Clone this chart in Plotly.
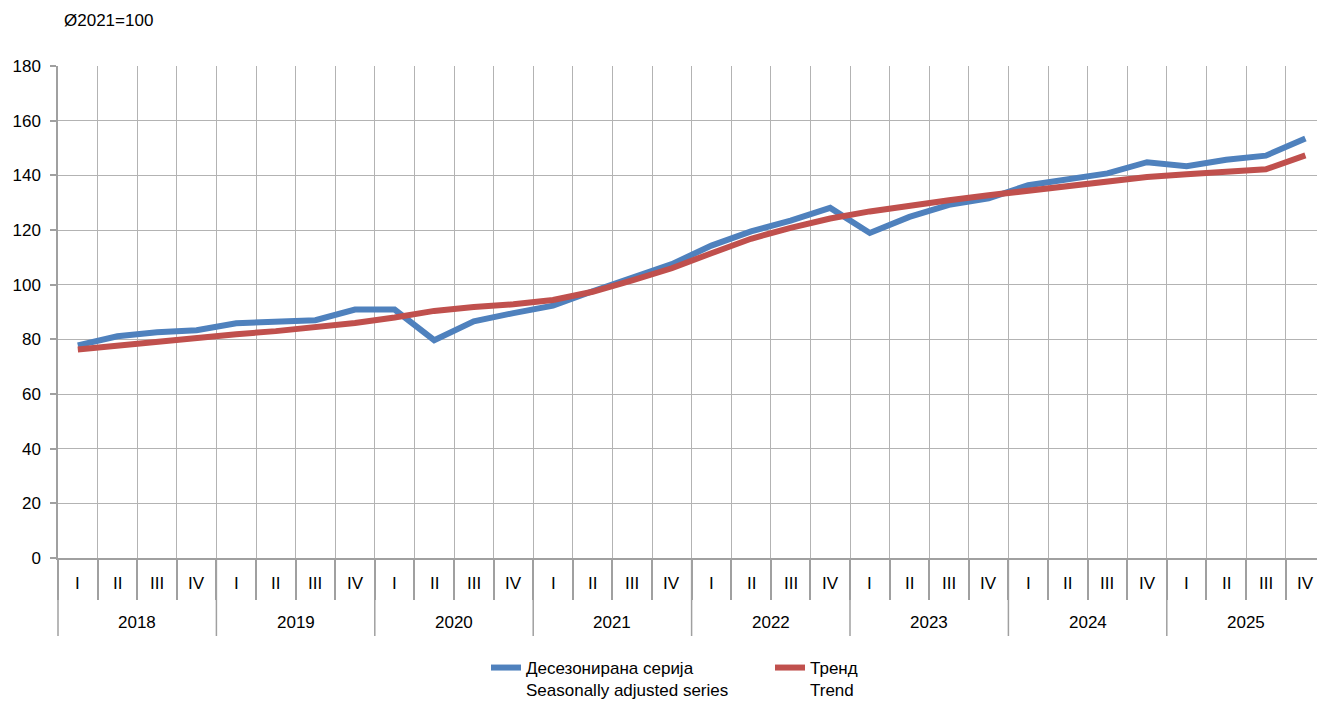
import plotly.graph_objects as go

years = ["2018", "2019", "2020", "2021", "2022", "2023", "2024", "2025"]
quarters = ["I", "II", "III", "IV"]

seasonally_adjusted = [
    77.8, 81.1, 82.6, 83.3,
    85.9, 86.6, 87.0, 90.9,
    90.9, 79.7, 86.6, 89.6,
    92.3, 97.6, 102.3, 107.5,
    114.3, 119.5, 123.4, 128.1,
    118.9, 124.8, 129.2, 131.6,
    136.4, 138.4, 140.7, 144.8,
    143.3, 145.7, 147.2, 153.5,
]
trend = [
    76.3, 77.8, 79.3, 80.7,
    81.9, 83.0, 84.3, 86.0,
    88.0, 90.4, 91.8, 92.8,
    94.4, 97.4, 101.6, 106.0,
    111.5, 116.8, 120.8, 124.2,
    126.8, 129.1, 130.9, 132.7,
    134.4, 136.1, 137.8, 139.4,
    140.4, 141.2, 142.2, 147.3,
]

name_sa = "Десезонирана серија<br>Seasonally adjusted series"
name_tr = "Тренд<br>Trend"
y_note = "Ø2021=100"

FONT = "Liberation Sans, Arial, sans-serif"
FS = 17
GRID = "#b3b3b3"
AXIS = "#a0a0a0"

n = len(years) * len(quarters)
xs = list(range(n))

fig = go.Figure()
fig.add_trace(go.Scatter(x=xs, y=seasonally_adjusted, mode="lines", name=name_sa,
                         line=dict(color="#4F81BD", width=6)))
fig.add_trace(go.Scatter(x=xs, y=trend, mode="lines", name=name_tr,
                         line=dict(color="#C0504D", width=6)))

W, H = 1317, 704
ML, MR, MT = 58, 0, 66
MB = H - 558
plot_w = W - ML - MR
plot_h = H - MT - MB
cat_w = 39.6
right = -0.5 + plot_w / cat_w

def py(px_below):
    return -px_below / plot_h

shapes = []
annotations = []
# year dividers
for k in range(len(years)):
    if k == 0:
        shapes.append(dict(type="line", xref="x domain", yref="paper", x0=0, x1=0,
                           y0=0, y1=py(78), line=dict(color=AXIS, width=1.5)))
    else:
        xv = -0.5 + 4 * k
        shapes.append(dict(type="line", xref="x", yref="paper", x0=xv, x1=xv,
                           y0=0, y1=py(78), line=dict(color=AXIS, width=1.5)))
    annotations.append(dict(x=4 * k + 1.5, y=py(64), xref="x", yref="paper",
                            text=years[k], showarrow=False, yanchor="middle",
                            font=dict(family=FONT, size=FS, color="#000")))
for i in range(n):
    annotations.append(dict(x=i, y=py(25), xref="x", yref="paper",
                            text=quarters[i % 4], showarrow=False, yanchor="middle",
                            font=dict(family=FONT, size=FS, color="#000")))

annotations.append(dict(x=(62 - ML) / plot_w, y=1 + (MT - 21) / plot_h,
                        xref="paper", yref="paper", text=y_note, showarrow=False,
                        xanchor="left", yanchor="middle",
                        font=dict(family=FONT, size=FS, color="#000")))

fig.update_layout(
    width=W, height=H,
    margin=dict(l=ML, r=MR, t=MT, b=MB, pad=0, autoexpand=False),
    paper_bgcolor="white", plot_bgcolor="white",
    font=dict(family=FONT, size=FS, color="#000"),
    showlegend=True,
    legend=dict(orientation="h", x=(486 - ML) / plot_w, xanchor="left",
                yref="container", y=1 - 650 / H, yanchor="top", valign="top",
                entrywidth=239, entrywidthmode="pixels",
                font=dict(family=FONT, size=FS, color="#000"),
                bgcolor="rgba(0,0,0,0)", itemclick=False),
    shapes=shapes,
    annotations=annotations,
    xaxis=dict(range=[-0.5, right], tickmode="array",
               tickvals=[i - 0.5 for i in range(n + 1)],
               showticklabels=False, ticks="outside", ticklen=40,
               tickcolor=AXIS, tickwidth=1.5, automargin=False,
               showgrid=True, gridcolor=GRID, gridwidth=1.3,
               showline=True, linecolor=AXIS, linewidth=1.5,
               zeroline=False, fixedrange=True),
    yaxis=dict(range=[0, 180], tickmode="linear", tick0=0, dtick=20,
               ticks="outside", ticklen=6, tickcolor=AXIS, tickwidth=1.5,
               ticklabelstandoff=6, automargin=False,
               showgrid=True, gridcolor=GRID, gridwidth=1.3,
               showline=True, linecolor=AXIS, linewidth=1.5,
               zeroline=False, fixedrange=True,
               tickfont=dict(family=FONT, size=FS, color="#000")),
)

# remove the browser's default 8px body margin so the figure fills the window
fig.write_html("out.html", config={"displayModeBar": False},
               post_script="document.body.style.margin='0px';"
                           "document.body.style.overflow='hidden';")
